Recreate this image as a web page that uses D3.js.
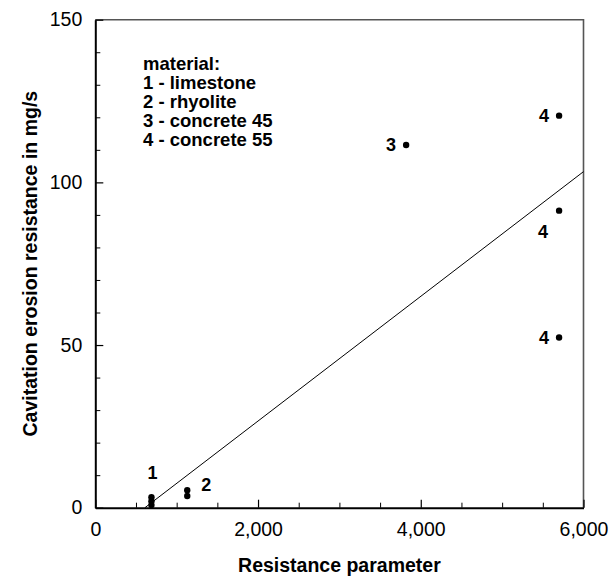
<!DOCTYPE html>
<html>
<head>
<meta charset="utf-8">
<script src="https://cdn.jsdelivr.net/npm/d3@7"></script>
<style>
  body { margin: 0; background: #fff; }
  svg { font-family: "Liberation Sans", Arial, Helvetica, sans-serif; }
</style>
</head>
<body>
<div id="chart"></div>
<script>
// material names for the legend
const materials = ['limestone', 'rhyolite', 'concrete 45', 'concrete 55'];

// measured points
const materialId = [1, 1, 1, 2, 2, 3, 4, 4, 4];
const resistanceParam = [690, 690, 690, 1130, 1130, 3820, 5700, 5700, 5700];
const erosionResistance = [0.8, 2.0, 3.2, 3.6, 5.4, 111.5, 120.5, 91.3, 52.3];

// fitted line end points
const fitX = [610, 6000];
const fitY = [0, 103.3];

// axis ticks
const xMajorTicks = [0, 2000, 4000, 6000];
const xMinorTicks = [500, 1000, 1500, 2500, 3000, 3500, 4500, 5000, 5500];
const yMajorTicks = [0, 50, 100, 150];
const yMinorTicks = [10, 20, 30, 40, 60, 70, 80, 90, 110, 120, 130, 140];

// which point gets a number label and where it sits
const labelledPoints = [2, 4, 5, 6, 7, 8];
const labelPlace = ['above', 'right', 'left', 'left', 'belowLeft', 'left'];

const width = 612;
const height = 584;
const margin = { top: 19.7, right: 28.5, bottom: 76.3, left: 95.3 };

const svg = d3.select('#chart').append('svg')
  .attr('width', width)
  .attr('height', height);

const x = d3.scaleLinear().domain([0, 6000]).range([margin.left, width - margin.right]);
const y = d3.scaleLinear().domain([0, 150]).range([height - margin.bottom, margin.top]);

// frame: top and right in grey
svg.append('path')
  .attr('d', `M${x(0)},${y(150)}H${x(6000)}V${y(0)}`)
  .attr('fill', 'none')
  .attr('stroke', '#555')
  .attr('stroke-width', 1.6);

// minor ticks
svg.append('g')
  .attr('transform', `translate(0,${y(0)})`)
  .call(d3.axisBottom(x).tickValues(xMinorTicks).tickSize(-5).tickFormat(''))
  .call(g => g.select('.domain').remove());

svg.append('g')
  .attr('transform', `translate(${x(0)},0)`)
  .call(d3.axisLeft(y).tickValues(yMinorTicks).tickSize(-5).tickFormat(''))
  .call(g => g.select('.domain').remove());

// major ticks with labels
const xAxis = svg.append('g')
  .attr('transform', `translate(0,${y(0)})`)
  .call(d3.axisBottom(x).tickValues(xMajorTicks).tickSizeInner(-8).tickSizeOuter(0)
    .tickPadding(14).tickFormat(d3.format(',')));

const yAxis = svg.append('g')
  .attr('transform', `translate(${x(0)},0)`)
  .call(d3.axisLeft(y).tickValues(yMajorTicks).tickSizeInner(-8).tickSizeOuter(0)
    .tickPadding(13).tickFormat(d3.format('d')));

[xAxis, yAxis].forEach(g => {
  g.select('.domain').attr('stroke', '#000').attr('stroke-width', 2);
  g.selectAll('.tick line').attr('stroke-width', 1.2);
  g.selectAll('.tick text')
    .attr('font-size', 19.5)
    .attr('font-family', '"Liberation Sans", Arial, sans-serif')
    .attr('fill', '#000');
});
svg.selectAll('.tick line').attr('stroke', '#000');

// fitted line
svg.append('line')
  .attr('x1', x(fitX[0])).attr('y1', y(fitY[0]))
  .attr('x2', x(fitX[1])).attr('y2', y(fitY[1]))
  .attr('stroke', '#000')
  .attr('stroke-width', 1);

// points
svg.append('g')
  .selectAll('circle')
  .data(resistanceParam)
  .enter()
  .append('circle')
  .attr('cx', d => x(d))
  .attr('cy', (d, i) => y(erosionResistance[i]))
  .attr('r', 3.2)
  .attr('fill', '#000');

// number labels next to points
const offsets = {
  above: [1, -24],
  right: [19, -5],
  left: [-15, 0],
  belowLeft: [-16, 21]
};
svg.append('g')
  .selectAll('text')
  .data(labelledPoints)
  .enter()
  .append('text')
  .attr('x', (d, i) => x(resistanceParam[d]) + offsets[labelPlace[i]][0])
  .attr('y', (d, i) => y(erosionResistance[d]) + offsets[labelPlace[i]][1])
  .attr('text-anchor', 'middle')
  .attr('dominant-baseline', 'central')
  .attr('font-size', 18)
  .attr('font-weight', 'bold')
  .text(d => materialId[d]);

// legend
const legend = svg.append('g').attr('transform', 'translate(143,63)');
legend.selectAll('text')
  .data(['material:'].concat(materials.map((m, i) => `${i + 1} - ${m}`)))
  .enter()
  .append('text')
  .attr('x', 0)
  .attr('y', (d, i) => i * 19)
  .attr('dominant-baseline', 'central')
  .attr('font-size', 18.5)
  .attr('font-weight', 'bold')
  .text(d => d);

// axis titles
svg.append('text')
  .attr('x', (x(0) + x(6000)) / 2)
  .attr('y', 565)
  .attr('text-anchor', 'middle')
  .attr('dominant-baseline', 'central')
  .attr('font-size', 19.5)
  .attr('font-weight', 'bold')
  .text('Resistance parameter');

svg.append('text')
  .attr('transform', `translate(30,${(y(0) + y(150)) / 2}) rotate(-90)`)
  .attr('text-anchor', 'middle')
  .attr('dominant-baseline', 'central')
  .attr('font-size', 19.5)
  .attr('font-weight', 'bold')
  .text('Cavitation erosion resistance in mg/s');
</script>
</body>
</html>
